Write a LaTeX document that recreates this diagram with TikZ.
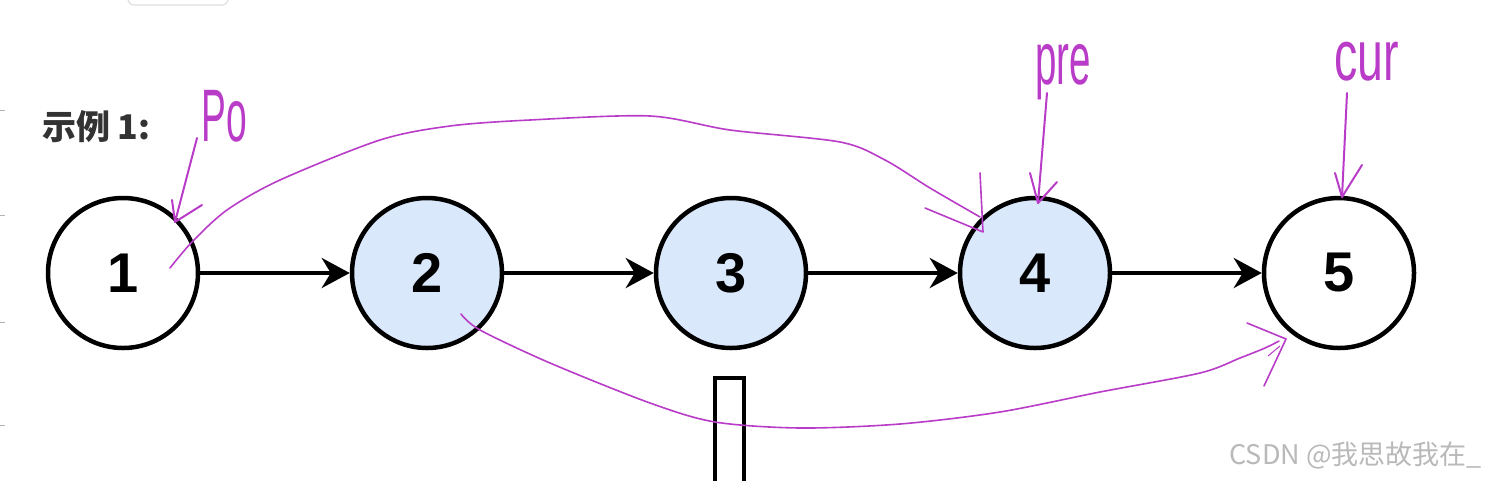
\documentclass[tikz,border=0pt]{standalone}
\usepackage{fontspec}
\setmainfont{Liberation Sans}
\newfontfamily\cjk{Noto Sans CJK SC}
\usetikzlibrary{arrows.meta}
\definecolor{nodeblue}{HTML}{DAE8FC}
\definecolor{pen}{RGB}{185,60,200}
\definecolor{titlegray}{HTML}{333333}
\tikzset{
  listnode/.style={circle, draw=black, line width=4.5pt, minimum size=150pt, inner sep=0pt,
    font=\fontsize{56}{60}\selectfont\bfseries},
  bluenode/.style={listnode, fill=nodeblue},
  linkarrow/.style={line width=4pt, -{Stealth[length=28pt,width=30pt,inset=9pt]}},
  penline/.style={draw=pen, line width=2pt, line cap=round, line join=round},
  penthin/.style={draw=pen, line width=1.6pt, line cap=round, line join=round},
  pentext/.style={text=pen, inner sep=0pt, font=\fontsize{62}{62}\selectfont},
}
\begin{document}
\begin{tikzpicture}[x=1pt,y=-1pt]
\useasboundingbox (0,0) rectangle (1490,480);
\fill[white] (0,0) rectangle (1490,480);
% faint UI remnants
\draw[gray!25, line width=1.2pt, rounded corners=6pt] (128,-10) rectangle (228,5);
\foreach \yy in {110,215,322,425} \draw[gray!60, line width=1pt] (0,\yy) -- (5,\yy);

% title
\node[anchor=west, text=titlegray, inner sep=0pt, font=\cjk\bfseries\fontsize{34}{36}\selectfont] (title) at (42,127) {示例 1:};

% list nodes
\node[listnode] (n1) at (123,273) {1};
\node[bluenode] (n2) at (427,273) {2};
\node[bluenode] (n3) at (731,273) {3};
\node[bluenode] (n4) at (1035,273) {4};
\node[listnode] (n5) at (1339,273) {5};

\draw[linkarrow] (n1) -- (n2);
\draw[linkarrow] (n2) -- (n3);
\draw[linkarrow] (n3) -- (n4);
\draw[linkarrow] (n4) -- (n5);

% bar below node 3
\node[draw=black, fill=white, line width=3.5pt, minimum width=29pt, minimum height=120pt, inner sep=0pt, anchor=north] (bar) at (729.5,376) {};

% handwritten labels
\node[pentext] (po) at (224,116) {\scalebox{0.6}[1.2]{Po}};
\node[pentext] (pre) at (1063,72) {\scalebox{0.62}[1.2]{pre}};
\node[pentext] (cur) at (1367,62) {\scalebox{0.75}[1.15]{cur}};

% pointer arrows
\coordinate (poS) at (197,138);
\coordinate (poT) at (175,222);
\draw[penline] (poS) -- (poT);
\draw[penline] (172,200) -- (poT) -- (202,205);

\coordinate (preS) at (1047,93);
\coordinate (preT) at (1038,203);
\draw[penline] (preS) -- (preT);
\draw[penline] (1030,173) -- (preT) -- (1057,182);

\coordinate (curS) at (1347,93);
\coordinate (curT) at (1342,197);
\draw[penline] (curS) -- (curT);
\draw[penline] (1335,173) -- (curT) -- (1362,165);

% big curve from 1 to 4
\coordinate (upS) at (170,268);
\coordinate (upT) at (983,232);
\draw[penthin] plot[smooth, tension=0.5] coordinates {(upS) (192,242) (227,210) (280,180) (380,140) (450,126) (530,120) (650,116) (730,130) (840,142) (885,160) (930,188) (980,217)};
\draw[penthin] (925,208) -- (upT) -- (980,173);

% bottom curve from 2 to 5
\coordinate (dnS) at (461,314);
\coordinate (dnT) at (1286,339);
\draw[penthin] plot[smooth, tension=0.5] coordinates {(dnS) (480,330) (550,363) (650,403) (715,422) (800,428) (900,424) (1000,412) (1100,392) (1200,373) (1240,358) (1265,348) (1279,341)};
\draw[penthin] (1247,323) -- (dnT) -- (1264,386);
\draw[draw=pen, line width=1pt] (1268,356) -- (1280,346);

% watermark
\node[anchor=east, text=gray!55, inner sep=0pt, font=\cjk\fontsize{27}{28}\selectfont] (wm) at (1482,455) {CSDN @我思故我在\_};
\end{tikzpicture}
\end{document}
